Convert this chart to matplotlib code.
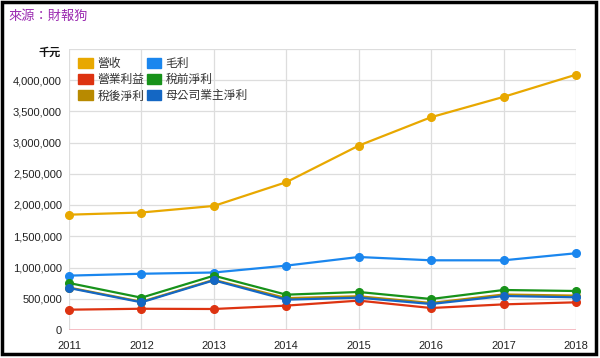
import matplotlib.pyplot as plt
from matplotlib.patches import Patch, Rectangle
from matplotlib.ticker import FuncFormatter

plt.rcParams['font.family'] = ['Liberation Sans', 'Noto Sans CJK TC', 'DejaVu Sans']

years = [2011, 2012, 2013, 2014, 2015, 2016, 2017, 2018]
revenue = [1845000, 1880000, 1985000, 2365000, 2950000, 3405000, 3730000, 4085000]
gross = [870000, 900000, 920000, 1030000, 1168000, 1115000, 1115000, 1228000]
op_income = [325000, 340000, 336000, 390000, 470000, 352000, 410000, 443000]
pretax = [752000, 517000, 869000, 565000, 608000, 496000, 640000, 624000]
aftertax = [680000, 452000, 803000, 510000, 540000, 432000, 568000, 550000]
parent = [672000, 443000, 795000, 485000, 517000, 416000, 544000, 523000]

names = ['營收', '毛利', '營業利益', '稅前淨利', '稅後淨利', '母公司業主淨利']
colors = ['#e8a800', '#1a86ee', '#dd3311', '#17921a', '#b88a00', '#1467c4']
series = [revenue, gross, op_income, pretax, aftertax, parent]

fig = plt.figure(figsize=(6, 3.58), dpi=100)
ax = fig.add_axes([69 / 600, 28 / 358, 507 / 600, 281.25 / 358])

# draw order: back to front as in the reference
for i in [0, 1, 2, 4, 3, 5]:
    ax.plot(years, series[i], color=colors[i], lw=1.6, marker='o', ms=5.5,
            zorder=3 + (1 if i == 5 else 0), clip_on=False)

ax.axhline(0, color='#f5b3bb', lw=1.2, zorder=2)
ax.set_xlim(2011, 2018)
ax.set_ylim(0, 4500000)
ax.set_yticks(range(0, 4500001, 500000))
ax.set_xticks(years)
ax.yaxis.set_major_formatter(
    FuncFormatter(lambda v, p: '' if v > 4200000 else f'{int(v):,}'))
ax.grid(True, color='#dddddd', lw=0.9, zorder=0)
for s in ax.spines.values():
    s.set_visible(False)
ax.tick_params(length=0, labelsize=8, colors='#222222', pad=5)
ax.tick_params(axis='x', pad=8)

handles = [Patch(facecolor=c, edgecolor=c) for c in colors]
order = [0, 2, 4, 1, 3, 5]
leg = ax.legend([handles[i] for i in order], [names[i] for i in order], ncol=2,
                loc='upper left', bbox_to_anchor=(0.0, 1.0), frameon=False,
                fontsize=8.5, handlelength=1.2, handleheight=0.9,
                handletextpad=0.4, columnspacing=0.2, labelspacing=0.35,
                borderaxespad=0.4)
for t in leg.get_texts():
    t.set_color('#333333')

fig.text(8 / 600, 1 - 17 / 358, '來源：財報狗', color='#9a2ab0', fontsize=9.5,
         va='center', ha='left')
fig.text(61 / 600, 1 - 53 / 358, '千元', color='#111111', fontsize=8,
         fontweight='bold', va='center', ha='right')

fig.patches.append(Rectangle((2 / 600, 4 / 358), 594 / 600, 352 / 358,
                             transform=fig.transFigure, fill=False,
                             edgecolor='black', lw=2.5))

fig.savefig('out.png', dpi=100)
